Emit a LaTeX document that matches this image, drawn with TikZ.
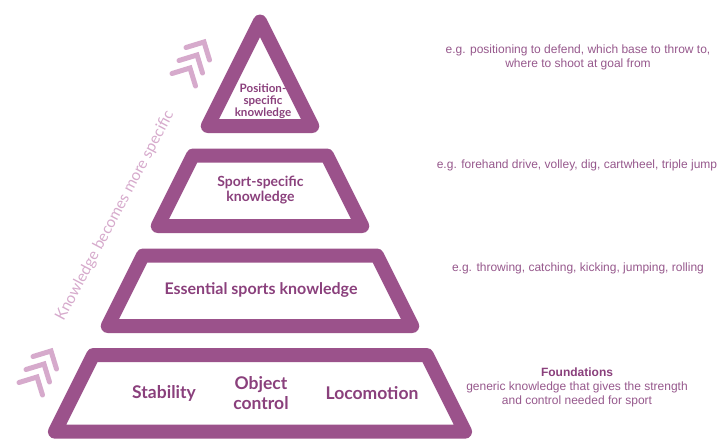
\documentclass[tikz,border=0pt]{standalone}
\usepackage{fontspec}
\setmainfont{Liberation Sans}
\newfontfamily\labelfont{Lato}
\newfontfamily\notefont{Liberation Sans}
\definecolor{pyr}{RGB}{155,82,139}
\definecolor{lbl}{RGB}{138,64,124}
\definecolor{note}{RGB}{150,88,140}
\definecolor{soft}{RGB}{214,170,204}
\begin{document}
\begin{tikzpicture}[x=1pt,y=-1pt,
  band/.style={draw=pyr, line width=14pt, line join=round},
  biglab/.style={text=lbl, font=\labelfont\bfseries\fontsize{17.5}{19.5}\selectfont, align=center, inner sep=0pt},
  lab/.style={text=lbl, font=\labelfont\bfseries\fontsize{16}{18}\selectfont, align=center, inner sep=0pt},
  smalllab/.style={text=lbl, font=\labelfont\bfseries\fontsize{11.6}{12}\selectfont, align=center, inner sep=0pt},
  midlab/.style={text=lbl, font=\labelfont\bfseries\fontsize{14}{15.5}\selectfont, align=center, inner sep=0pt},
  notetext/.style={text=note, font=\notefont\fontsize{12}{14}\selectfont, align=center, inner sep=0pt},
  chev/.style={draw=soft, line width=5pt, line cap=round, line join=miter},
  sidetext/.style={text=soft, font=\labelfont\fontsize{15.5}{17}\selectfont, inner sep=0pt}
]
\useasboundingbox (0,0) rectangle (718,440);
% pyramid bands
\draw[band] (260,21.5) -- (312.25,126) -- (207.75,126) -- cycle;
\draw[band] (193,155.5) -- (327,155.5) -- (362.25,226) -- (157.75,226) -- cycle;
\draw[band] (143,255.5) -- (377,255.5) -- (412.25,326) -- (107.75,326) -- cycle;
\draw[band] (93.25,355) -- (426.75,355) -- (465.1,431.7) -- (54.9,431.7) -- cycle;
% labels in pyramid
\node[smalllab] (pos) at (263,101) {Position-\\specific\\knowledge};
\node[midlab] (sport) at (260.5,190) {Sport-specific\\knowledge};
\node[lab] (ess) at (261,289.5) {Essential sports knowledge};
\node[biglab] (stab) at (164,393) {Stability};
\node[biglab] (obj) at (261,393) {Object\\control};
\node[biglab] (loco) at (372,393) {Locomotion};
% notes
\node[notetext] (n1) at (578,57) {e.g. positioning to defend, which base to throw to,\\where to shoot at goal from};
\node[notetext] (n2) at (577,165.5) {e.g. forehand drive, volley, dig, cartwheel, triple jump};
\node[notetext] (n3) at (578,268) {e.g. throwing, catching, kicking, jumping, rolling};
\node[notetext] (n4) at (577,387) {{\bfseries\color{lbl}Foundations}\\generic knowledge that gives the strength\\and control needed for sport};
% side text
\node[sidetext, rotate=62] (side) at (115,216) {Knowledge becomes more specific};
% chevrons
\foreach \tx/\ty in {204/42, 197/55, 190/68, 51/351, 44/364, 37/377}{
  \draw[chev] (\tx-18,\ty+5.5) -- (\tx,\ty) -- (\tx+5.5,\ty+18);
}
\end{tikzpicture}
\end{document}
